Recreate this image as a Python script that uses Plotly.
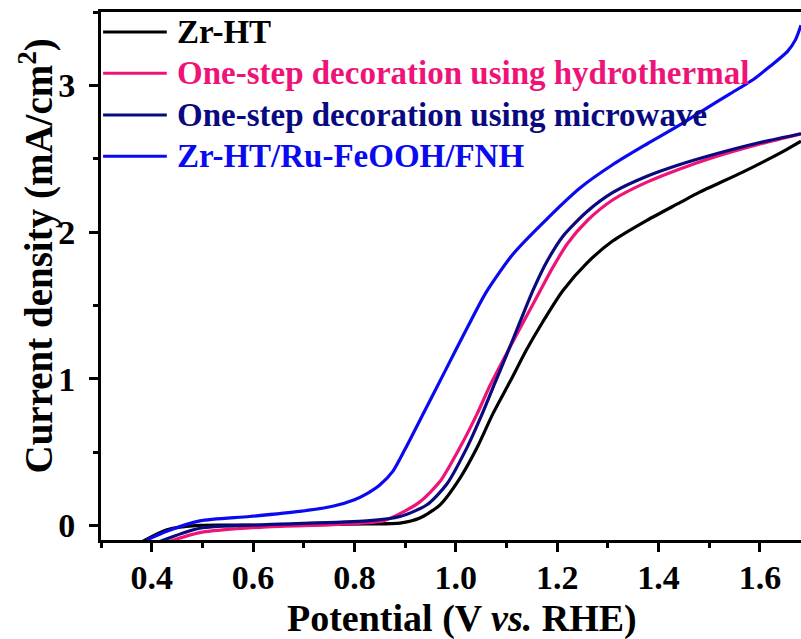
import plotly.graph_objects as go

# LSV curves: potential (V vs. RHE) and current density (mA/cm^2)
names = [
    "Zr-HT",
    "One-step decoration using hydrothermal",
    "One-step decoration using microwave",
    "Zr-HT/Ru-FeOOH/FNH",
]
colors = ["#000000", "#EE1477", "#0A0A80", "#0A0AF0"]

zrht_v = [0.382, 0.43, 0.495, 0.627, 0.824, 0.89, 0.929, 0.969, 1.008, 1.042, 1.073,
          1.107, 1.14, 1.172, 1.211, 1.259, 1.31, 1.377, 1.442, 1.48, 1.567, 1.646, 1.681]
zrht_j = [-0.11, -0.03, 0.0, 0.0, 0.01, 0.015, 0.05, 0.14, 0.32, 0.53, 0.76,
          0.98, 1.20, 1.39, 1.60, 1.79, 1.94, 2.08, 2.20, 2.27, 2.41, 2.55, 2.62]

hydro_v = [0.435, 0.495, 0.627, 0.757, 0.856, 0.89, 0.929, 0.969, 1.008, 1.042, 1.067,
           1.10, 1.137, 1.165, 1.19, 1.22, 1.26, 1.31, 1.377, 1.442, 1.50, 1.60, 1.681]
hydro_j = [-0.11, -0.05, -0.01, 0.005, 0.03, 0.08, 0.16, 0.30, 0.53, 0.76, 0.95,
           1.17, 1.41, 1.59, 1.75, 1.92, 2.08, 2.22, 2.34, 2.43, 2.50, 2.60, 2.67]

micro_v = [0.416, 0.495, 0.627, 0.824, 0.89, 0.943, 0.982, 1.022, 1.052, 1.077, 1.10,
           1.127, 1.152, 1.18, 1.211, 1.259, 1.31, 1.377, 1.442, 1.50, 1.60, 1.681]
micro_j = [-0.11, -0.02, 0.005, 0.03, 0.06, 0.14, 0.28, 0.53, 0.76, 0.97, 1.16,
           1.39, 1.60, 1.80, 1.97, 2.14, 2.27, 2.38, 2.46, 2.52, 2.61, 2.67]

fnh_v = [0.39, 0.43, 0.495, 0.593, 0.692, 0.757, 0.80, 0.824, 0.85, 0.876, 0.90,
         0.94, 0.98, 1.02, 1.06, 1.113, 1.18, 1.245, 1.31, 1.377, 1.442, 1.488,
         1.54, 1.587, 1.62, 1.654, 1.67, 1.681]
fnh_j = [-0.10, -0.04, 0.03, 0.06, 0.095, 0.13, 0.175, 0.215, 0.275, 0.37, 0.52,
         0.79, 1.06, 1.33, 1.59, 1.85, 2.09, 2.30, 2.46, 2.60, 2.73, 2.83,
         2.94, 3.04, 3.13, 3.23, 3.31, 3.41]

series = [(zrht_v, zrht_j), (hydro_v, hydro_j), (micro_v, micro_j), (fnh_v, fnh_j)]

x_ticks = [0.4, 0.6, 0.8, 1.0, 1.2, 1.4, 1.6]
x_tick_text = ["0.4", "0.6", "0.8", "1.0", "1.2", "1.4", "1.6"]
y_ticks = [0, 1, 2, 3]

x_title = "Potential (V <i>vs.</i> RHE)"
y_title = "Current density (mA/cm<sup>2</sup>)"

FONT = "Liberation Serif"

fig = go.Figure()
for (v, j), name, col in zip(series, names, colors):
    fig.add_trace(go.Scatter(
        x=v, y=j, mode="lines", name=name,
        line=dict(color=col, width=3.2, shape="spline", smoothing=0.7),
        showlegend=False,
    ))

# Legend drawn as line keys plus coloured labels
row_y = [0.962, 0.884, 0.805, 0.727]
for name, col, yy in zip(names, colors, row_y):
    fig.add_shape(type="line", xref="paper", yref="paper",
                  x0=0.003, x1=0.094, y0=yy, y1=yy,
                  line=dict(color=col, width=3))
    fig.add_annotation(xref="paper", yref="paper", x=0.106, y=yy,
                       xanchor="left", yanchor="middle", showarrow=False,
                       text=name,
                       font=dict(family=FONT, size=33, color=col, weight="bold"))

# Axis titles
fig.add_annotation(xref="paper", yref="paper", x=0.516, y=-0.148,
                   xanchor="center", yanchor="middle", showarrow=False,
                   text=x_title,
                   font=dict(family=FONT, size=38, color="black", weight="bold"))
fig.add_annotation(xref="paper", yref="paper", x=-0.092, y=0.538,
                   xanchor="center", yanchor="middle", showarrow=False,
                   textangle=-90, text=y_title,
                   font=dict(family=FONT, size=39, color="black", weight="bold"))

axis_common = dict(
    showline=True, linecolor="black", linewidth=3,
    ticks="outside", ticklen=9, tickwidth=3, tickcolor="black",
    showgrid=False, zeroline=False,
    tickfont=dict(family=FONT, size=34, color="black", weight="bold"),
)

fig.update_xaxes(
    range=[0.3, 1.681], tickvals=x_ticks, ticktext=x_tick_text,
    mirror=True,
    minor=dict(dtick=0.1, tick0=0.3, ticklen=5, tickwidth=3, tickcolor="black",
               ticks="outside", showgrid=False),
    ticklabelstandoff=-4,
    **axis_common,
)
fig.update_yaxes(
    range=[-0.1, 3.5], tickvals=y_ticks,
    minor=dict(dtick=0.5, tick0=0, ticklen=5, tickwidth=3, tickcolor="black",
               ticks="outside", showgrid=False),
    ticklabelstandoff=7,
    **axis_common,
)

fig.update_layout(
    width=801, height=639,
    margin=dict(l=101, r=0, t=12, b=99),
    plot_bgcolor="white", paper_bgcolor="white",
    font=dict(family=FONT, color="black"),
)

fig.write_html("out.html")
